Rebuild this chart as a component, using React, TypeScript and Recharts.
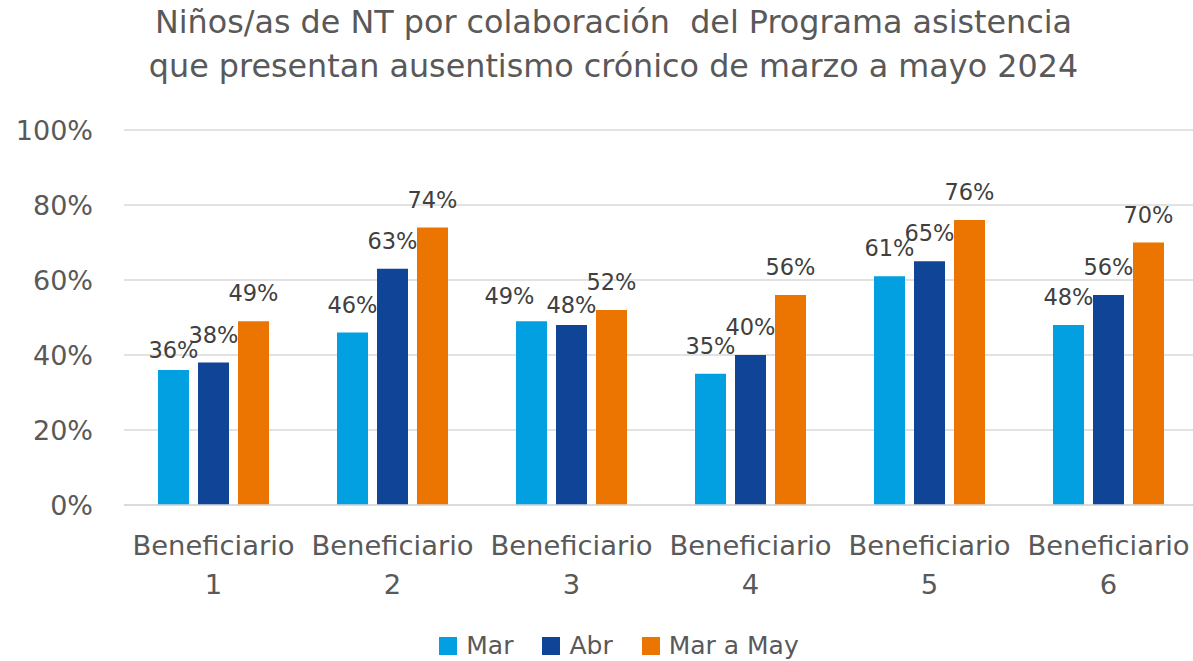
import { BarChart, Bar, XAxis, YAxis, CartesianGrid, LabelList, Legend } from "recharts";

const categories = ["Beneficiario 1", "Beneficiario 2", "Beneficiario 3", "Beneficiario 4", "Beneficiario 5", "Beneficiario 6"];
const mar = [36, 46, 49, 35, 61, 48];
const abr = [38, 63, 48, 40, 65, 56];
const marMay = [49, 74, 52, 56, 76, 70];
const yTicks = [0, 20, 40, 60, 80, 100];
const titleLines = [
  "Niños/as de NT por colaboración  del Programa asistencia",
  "que presentan ausentismo crónico de marzo a mayo 2024",
];

// small label nudges (dx, dy) where the original moved labels to avoid overlaps
const labelNudge: Record<string, [number, number][]> = {
  mar: [[0, 8], [0, 0], [-22, 3], [0, 0], [0, 0], [0, 0]],
  abr: [[0, 0], [0, 0], [0, 8], [0, 0], [0, 0], [0, 0]],
  marMay: [[0, 0], [0, 0], [0, 0], [0, 0], [0, 0], [0, 0]],
};

const FONT = "'DejaVu Sans', sans-serif";
const TEXT = "#595959";

const series = [
  { key: "mar", name: "Mar", color: "#02A0E0" },
  { key: "abr", name: "Abr", color: "#0F4496" },
  { key: "marMay", name: "Mar a May", color: "#EB7500" },
];

const data = categories.map((c, i) => ({
  name: c,
  mar: mar[i],
  abr: abr[i],
  marMay: marMay[i],
}));

function CategoryTick(props: any) {
  const { x, y, payload } = props;
  const parts = String(payload.value).split(" ");
  return (
    <g>
      <text x={x} y={y + 42} textAnchor="middle" fill={TEXT} fontSize={27.4} fontFamily={FONT}>
        {parts[0]}
      </text>
      <text x={x} y={y + 81} textAnchor="middle" fill={TEXT} fontSize={27.4} fontFamily={FONT}>
        {parts[1]}
      </text>
    </g>
  );
}

function makeLabel(seriesKey: string) {
  return (props: any) => {
    const { x, y, width, value, index } = props;
    const [dx, dy] = labelNudge[seriesKey][index] || [0, 0];
    return (
      <text
        x={x + width / 2 + dx}
        y={y - 20 + dy}
        textAnchor="middle"
        fill="#404040"
        fontSize={22.5}
        fontFamily={FONT}
      >
        {`${value}%`}
      </text>
    );
  };
}

function LegendContent() {
  return (
    <div
      style={{
        display: "flex",
        justifyContent: "center",
        boxSizing: "border-box",
        height: 36,
        paddingTop: 8,
        paddingBottom: 2,
        alignItems: "center",
        paddingLeft: 40,
      }}
    >
      {series.map((s, i) => (
        <div key={s.key} style={{ display: "flex", alignItems: "center", marginRight: i < series.length - 1 ? 29 : 0 }}>
          <span style={{ width: 18, height: 18, background: s.color, display: "inline-block", marginRight: 9 }} />
          <span style={{ fontSize: 25, color: TEXT, fontFamily: FONT, lineHeight: "26px" }}>{s.name}</span>
        </div>
      ))}
    </div>
  );
}

export default function App() {
  return (
    <div
      style={{
        position: "absolute",
        left: 0,
        top: 0,
        width: 1193,
        height: 661,
        background: "#fff",
        overflow: "hidden",
      }}
    >
      <svg width={1193} height={100} style={{ position: "absolute", left: 0, top: 0 }}>
        {titleLines.map((t, i) => (
          <text
            key={t}
            x={613.5}
            y={33 + i * 44}
            textAnchor="middle"
            fill={TEXT}
            fontSize={31.8}
            fontFamily={FONT}
            style={{ whiteSpace: "pre" }}
          >
            {t}
          </text>
        ))}
      </svg>
      {/* plot area runs a little past the right edge, as in the original crop */}
      <BarChart
        width={1198}
        height={661}
        data={data}
        margin={{ top: 130, right: 0, bottom: 0, left: 0 }}
        barSize={31}
        barGap={9}
      >
        <CartesianGrid vertical={false} stroke="#D9D9D9" strokeWidth={1.5} />
        <XAxis
          dataKey="name"
          height={120}
          tick={<CategoryTick />}
          tickLine={false}
          axisLine={{ stroke: "#D9D9D9", strokeWidth: 1.5 }}
          interval={0}
        />
        <YAxis
          width={124}
          domain={[0, 100]}
          ticks={yTicks}
          tickFormatter={(v) => `${v}%`}
          tickLine={false}
          axisLine={false}
          tickSize={0}
          tickMargin={31}
          tick={{ fill: TEXT, fontSize: 27, fontFamily: FONT }}
        />
        <Legend verticalAlign="bottom" height={36} content={<LegendContent />} />
        {series.map((s) => (
          <Bar key={s.key} dataKey={s.key} name={s.name} fill={s.color} isAnimationActive={false}>
            <LabelList dataKey={s.key} content={makeLabel(s.key)} />
          </Bar>
        ))}
      </BarChart>
    </div>
  );
}
